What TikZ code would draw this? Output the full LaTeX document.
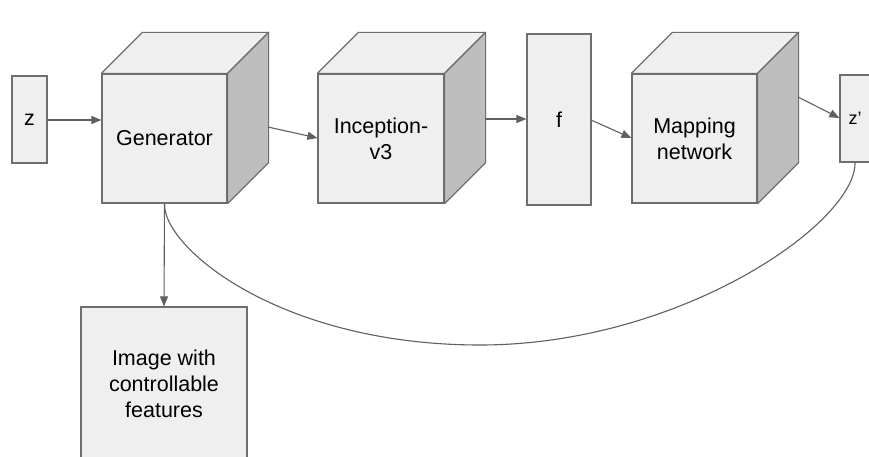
\documentclass[tikz,border=0pt]{standalone}
\usepackage{fontspec}
\setmainfont{Liberation Sans}
\usetikzlibrary{arrows.meta,calc}
\definecolor{facefill}{HTML}{EFEFEF}
\definecolor{sidefill}{HTML}{BEBEBE}
\definecolor{edge}{HTML}{6E6E6E}
\definecolor{wire}{HTML}{606060}

% front face is a node; top and side faces are added from its corners
\newcommand\cubefaces[2]{%
  \draw[face, fill=facefill] (#1.north west) -- ++(#2,-#2)
    -- ($(#1.north east)+(#2,-#2)$) -- (#1.north east) -- cycle;
  \draw[face, fill=sidefill] (#1.north east) -- ($(#1.north east)+(#2,-#2)$)
    -- ($(#1.south east)+(#2,-#2)$) -- (#1.south east) -- cycle;
}

\begin{document}
\begin{tikzpicture}[x=1pt,y=-1pt,
  box/.style={draw=edge, fill=facefill, line width=1.2pt, inner sep=0pt,
    font=\fontsize{21.5}{26}\selectfont, align=center},
  face/.style={draw=edge, line width=1.2pt, line join=round},
  link/.style={draw=wire, line width=1.1pt, -{Triangle[length=10pt,width=8pt]}},
  wireline/.style={draw=wire, line width=1.1pt},
]
\useasboundingbox (0,0) rectangle (869,457);
\fill[white] (0,0) rectangle (869,457);
\clip (0,0) rectangle (869,457);

% inputs and outputs
\node[box, minimum width=35pt, minimum height=87pt] (z) at (29.5,119.5) {z};
\node[box, minimum width=64pt, minimum height=171pt] (f) at (559,119.5) {f};
\node[box, minimum width=30pt, minimum height=87pt, font=\fontsize{18}{22}\selectfont] (zp) at (855,118.5) {z'};
\node[box, minimum width=166pt, minimum height=154pt] (img) at (164,384)
  {Image with\\controllable\\features};

% cubes
\node[box, minimum width=125pt, minimum height=129pt] (gen) at (164.5,138.5) {Generator};
\cubefaces{gen}{41}
\node[box, minimum width=126pt, minimum height=129pt] (inc) at (381,138.5) {Inception-\\v3};
\cubefaces{inc}{41}
\node[box, minimum width=125pt, minimum height=129pt] (map) at (694.5,138.5) {Mapping\\network};
\cubefaces{map}{41}

% connector ends on the side faces, and the low point of the feedback loop
\coordinate (gen-out) at (268,127);
\coordinate (inc-out) at (485,119);
\coordinate (map-out) at (798,97);
\coordinate (f-out) at (591,120);
\coordinate (loop-low) at (480,345);

% connectors
\draw[link] (z.east |- 0,120) -- (gen.west |- 0,120);
\draw[link] (gen-out) -- (inc.west |- 0,138);
\draw[link] (inc-out) -- (f.west |- inc-out);
\draw[link] (f-out) -- (map.west |- 0,138);
\draw[link] (map-out) -- (zp.west |- 0,118);
\draw[link] (gen.south) -- (img.north);
\draw[wireline] (gen.south) .. controls (163,248) and (280,345) .. (loop-low)
  .. controls (680,345) and (856,223) .. (zp.south);
\end{tikzpicture}
\end{document}
